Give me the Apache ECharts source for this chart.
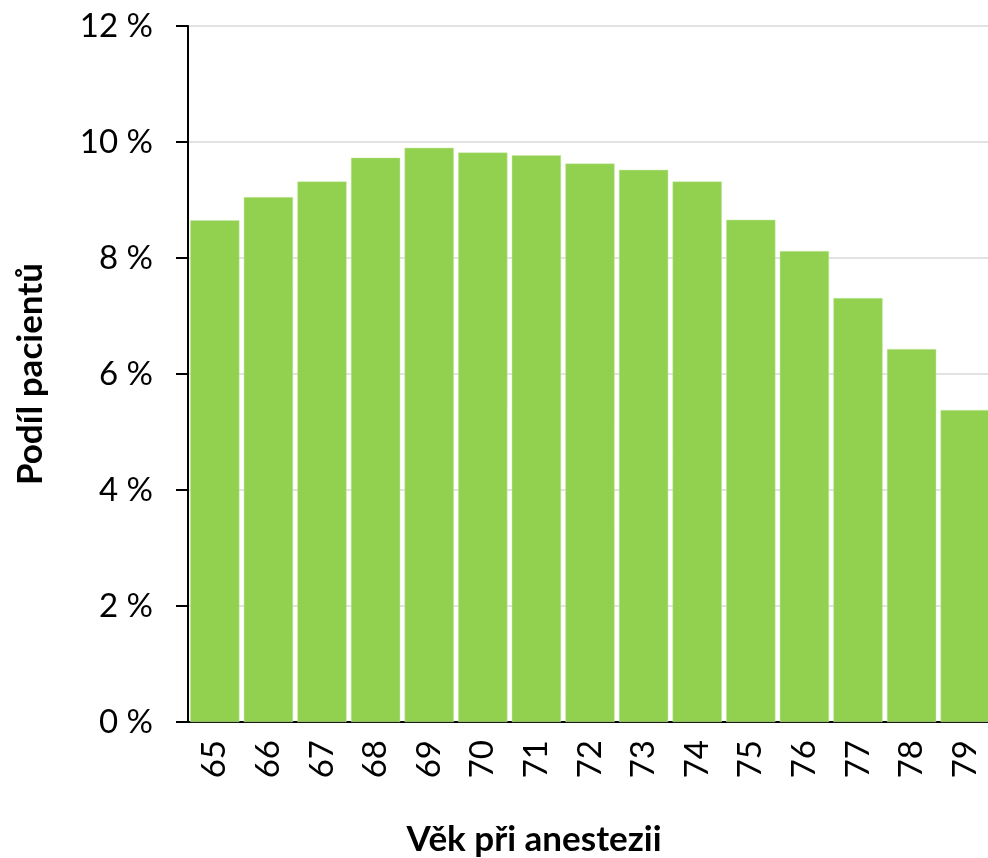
<!DOCTYPE html>
<html>
<head>
    <meta charset="utf-8">
    <title>Věk při anestezii</title>
    <script src="https://cdn.jsdelivr.net/npm/echarts@6/dist/echarts.min.js"></script>
    <style>
        body { margin: 0; background: #fff; }
    </style>
</head>
<body>
    <div id="main" style="width: 988px;height:858px;"></div>
    <script type="text/javascript">
        // data
        var ages = ['65', '66', '67', '68', '69', '70', '71', '72', '73', '74', '75', '76', '77', '78', '79'];
        var shares = [8.65, 9.05, 9.32, 9.73, 9.90, 9.82, 9.77, 9.63, 9.52, 9.32, 8.66, 8.12, 7.31, 6.43, 5.38];
        var yTicks = [0, 2, 4, 6, 8, 10, 12];

        var font = 'Lato, "Open Sans", sans-serif';
        var myChart = echarts.init(document.getElementById('main'));

        var option = {
            animation: false,
            grid: {
                left: 188,
                right: -4,
                top: 26,
                bottom: 136,
                outerBoundsMode: 'none',
                containLabel: false
            },
            xAxis: {
                type: 'category',
                data: ages,
                name: 'Věk při anestezii',
                nameLocation: 'middle',
                nameGap: 100,
                // title sits left of the plot centre in the original
                nameTextStyle: { fontFamily: font, fontSize: 35, fontWeight: 'bold', color: '#000', padding: [0, 112, 0, 0] },
                axisLine: { lineStyle: { color: '#000', width: 2 } },
                axisTick: { show: false },
                axisLabel: {
                    rotate: 90,
                    margin: 18,
                    fontFamily: font,
                    fontSize: 33,
                    color: '#000'
                }
            },
            yAxis: {
                type: 'value',
                min: yTicks[0],
                max: yTicks[yTicks.length - 1],
                interval: 2,
                name: 'Podíl pacientů',
                nameLocation: 'middle',
                nameGap: 140,
                nameTextStyle: { fontFamily: font, fontSize: 35, fontWeight: 'bold', color: '#000' },
                axisLine: { show: true, lineStyle: { color: '#000', width: 2 } },
                axisTick: { show: true, length: 12, lineStyle: { color: '#000', width: 2 } },
                axisLabel: {
                    margin: 35,
                    fontFamily: font,
                    fontSize: 33,
                    color: '#000',
                    formatter: '{value} %'
                },
                splitLine: { lineStyle: { color: '#d9d9d9', width: 1.5 } }
            },
            series: [{
                type: 'bar',
                data: shares,
                barCategoryGap: '8%',
                itemStyle: { color: '#92d050', borderColor: '#c8eaa8', borderWidth: 0.5 }
            }]
        };

        myChart.setOption(option);
    </script>
</body>
</html>
